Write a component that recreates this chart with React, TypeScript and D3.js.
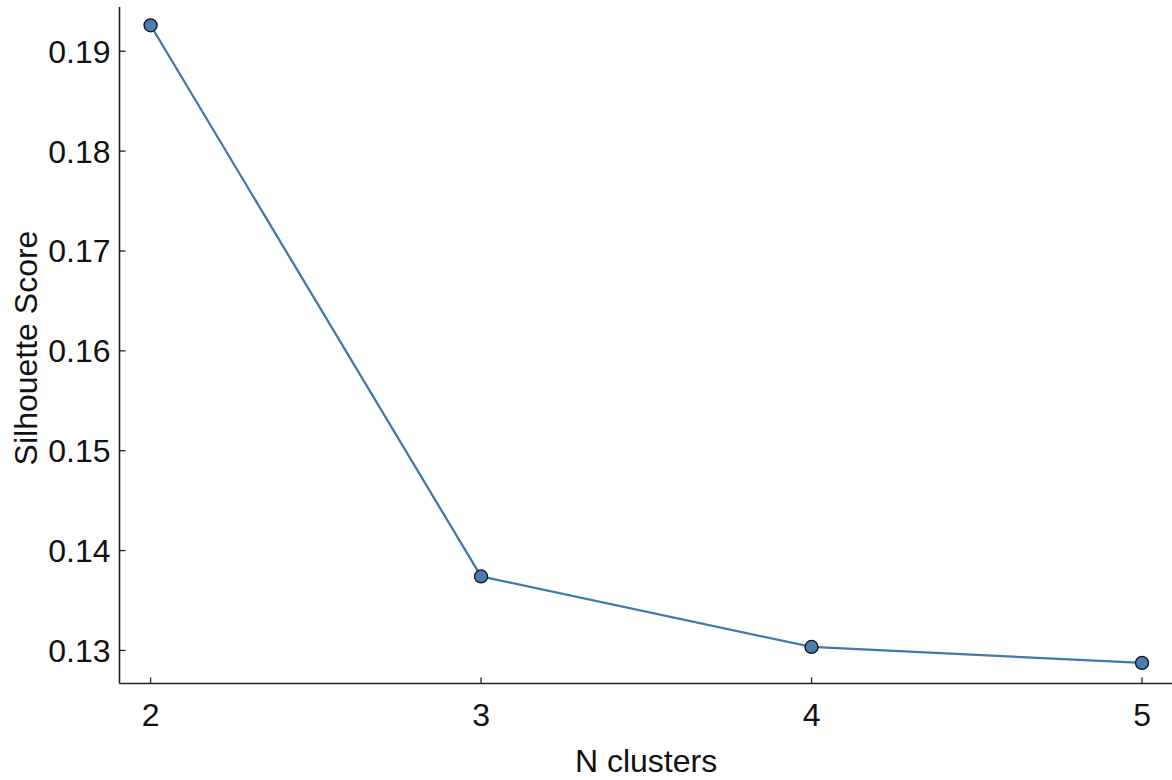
import React from "react";
import * as d3 from "d3";

const clusters = [2, 3, 4, 5];
const scores = [0.1926, 0.13741, 0.13035, 0.12875];
const yTicks = [0.13, 0.14, 0.15, 0.16, 0.17, 0.18, 0.19];
const xTicks = [2, 3, 4, 5];

const W = 1172;
const H = 780;
const left = 119.5;
const right = 1172;
const top = 7;
const bottom = 683.5;

export default function App() {
  const x = d3.scaleLinear().domain([1.906, 5.0907]).range([left, right]);
  const y = d3.scaleLinear().domain([0.12669, 0.19443]).range([bottom, top]);
  const line = d3
    .line<number>()
    .x((_, i) => x(clusters[i]))
    .y((d) => y(d));
  const font = "Liberation Sans, Arial, sans-serif";
  return (
    <svg
      width={W}
      height={H}
      style={{ position: "absolute", left: 0, top: 0, background: "#fff" }}
      fontFamily={font}
    >
      <path d={line(scores) || ""} fill="none" stroke="#4477aa" strokeWidth={2.3} />
      {scores.map((s, i) => (
        <circle
          key={i}
          cx={x(clusters[i])}
          cy={y(s)}
          r={6.5}
          fill="#4a7db4"
          stroke="#111"
          strokeWidth={1.3}
        />
      ))}
      <line x1={left} x2={left} y1={top} y2={bottom} stroke="#222" strokeWidth={1.6} />
      <line x1={left} x2={right} y1={bottom} y2={bottom} stroke="#222" strokeWidth={1.6} />
      {yTicks.map((t) => (
        <g key={t}>
          <line x1={left} x2={left + 6} y1={y(t)} y2={y(t)} stroke="#222" strokeWidth={1.3} />
          <text x={left - 9} y={y(t)} dy="0.36em" textAnchor="end" fontSize={32} fill="#111">
            {t.toFixed(2)}
          </text>
        </g>
      ))}
      {xTicks.map((t) => (
        <g key={t}>
          <line x1={x(t)} x2={x(t)} y1={bottom} y2={bottom - 6} stroke="#222" strokeWidth={1.3} />
          <text x={x(t)} y={726} textAnchor="middle" fontSize={32} fill="#111">
            {t}
          </text>
        </g>
      ))}
      <text x={646} y={772} textAnchor="middle" fontSize={32} fill="#111">
        N clusters
      </text>
      <text
        transform={`translate(37, 348) rotate(-90)`}
        textAnchor="middle"
        fontSize={32}
        fill="#111"
      >
        Silhouette Score
      </text>
    </svg>
  );
}
